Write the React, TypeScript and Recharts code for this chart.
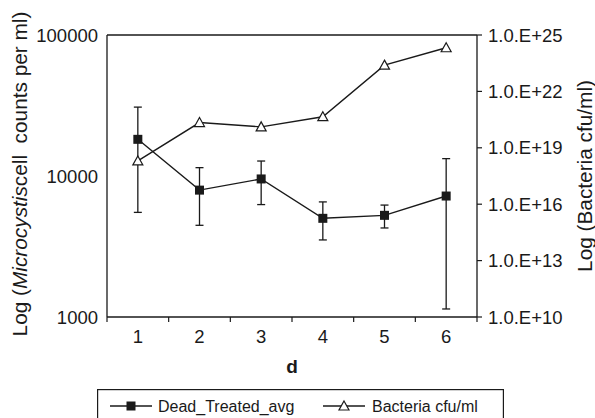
// Microcystis dead cells vs bacteria counts over days, dual log axes

import React from "react";
import {
  ComposedChart,
  Line,
  XAxis,
  YAxis,
  ErrorBar,
  Legend,
  ReferenceLine,
  Label,
} from "recharts";

// values
const days = [1, 2, 3, 4, 5, 6];
const deadAvg = [18200, 7940, 9530, 5010, 5260, 7210];
const deadUpper = [30800, 11460, 12770, 6550, 6220, 13280];
const deadLower = [5520, 4470, 6270, 3520, 4280, 1140];
const bacteria = [2e18, 2.2e20, 1.3e20, 4.5e20, 2.5e23, 2.1e24];

const xTicks = [0.5, 1, 1.5, 2, 2.5, 3, 3.5, 4, 4.5, 5, 5.5, 6, 6.5];
const leftTicks = [1000, 10000, 100000];
const rightTicks = [1e10, 1e13, 1e16, 1e19, 1e22, 1e25];
const seriesNames = ["Dead_Treated_avg", "Bacteria cfu/ml"];

const data = days.map((d, i) => ({
  d,
  dead: deadAvg[i],
  deadErr: [deadAvg[i] - deadLower[i], deadUpper[i] - deadAvg[i]],
  bacteria: bacteria[i],
}));

const INK = "#1a1a1a";
const FONT = "'Liberation Sans', Arial, sans-serif";
const TICK_FS = 18.5;

// integer ticks get a label, half ticks get a tick mark (category boundaries)
const XTick = (props: any) => {
  const { x, y, payload } = props;
  const v = payload.value;
  if (Number.isInteger(v)) {
    return (
      <text x={x} y={y + 18} textAnchor="middle" fontSize={TICK_FS} fill={INK} fontFamily={FONT}>
        {v}
      </text>
    );
  }
  return <line x1={x} x2={x} y1={y - 8} y2={y - 3} stroke={INK} strokeWidth={1.2} />;
};

const Square = (p: any) => (
  <rect key={`sq-${p.index}`} x={p.cx - 4.5} y={p.cy - 4.5} width={9} height={9} fill={INK} />
);

const Triangle = (p: any) => (
  <path
    key={`tr-${p.index}`}
    d={`M${p.cx},${p.cy - 5} L${p.cx + 5},${p.cy + 4} L${p.cx - 5},${p.cy + 4} Z`}
    fill="#fff"
    stroke={INK}
    strokeWidth={1.2}
  />
);

const LegendBox = () => (
  <svg width={407} height={34} style={{ display: "block" }}>
    <rect x={0.6} y={0.6} width={405.8} height={40} fill="#fff" stroke={INK} strokeWidth={1.2} />
    <line x1={13} x2={55} y1={17} y2={17} stroke={INK} strokeWidth={1.5} />
    <rect x={29.5} y={12.5} width={9} height={9} fill={INK} />
    <text x={61} y={23} fontSize={16} fill={INK} fontFamily={FONT}>
      {seriesNames[0]}
    </text>
    <line x1={226} x2={268} y1={17} y2={17} stroke={INK} strokeWidth={1.5} />
    <path d="M247,12 L252,21 L242,21 Z" fill="#fff" stroke={INK} strokeWidth={1.2} />
    <text x={275} y={23} fontSize={16} fill={INK} fontFamily={FONT}>
      {seriesNames[1]}
    </text>
  </svg>
);

const LeftTitle = (props: any) => {
  const { viewBox } = props;
  const cx = viewBox.x + 19;
  const cy = viewBox.y + viewBox.height / 2 - 2;
  return (
    <text
      x={cx}
      y={cy}
      transform={`rotate(-90 ${cx} ${cy})`}
      textAnchor="middle"
      dominantBaseline="central"
      fontSize={20.8}
      fill={INK}
      fontFamily={FONT}
      style={{ whiteSpace: "pre" }}
    >
      Log (<tspan fontStyle="italic">Microcystis</tspan>cell  counts per ml)
    </text>
  );
};

const RightTitle = (props: any) => {
  const { viewBox } = props;
  const cx = viewBox.x + 107;
  const cy = viewBox.y + viewBox.height / 2;
  return (
    <text
      x={cx}
      y={cy}
      transform={`rotate(-90 ${cx} ${cy})`}
      textAnchor="middle"
      dominantBaseline="central"
      fontSize={20.8}
      fill={INK}
      fontFamily={FONT}
    >
      Log (Bacteria cfu/ml)
    </text>
  );
};

export default function App() {
  return (
    <div style={{ position: "absolute", left: 0, top: 0, width: 595, height: 418, background: "#fff", overflow: "hidden" }}>
      <ComposedChart
        width={595}
        height={418}
        data={data}
        margin={{ top: 35, right: 0, bottom: 41, left: 0 }}
      >
        <XAxis
          dataKey="d"
          type="number"
          domain={[0.5, 6.5]}
          ticks={xTicks}
          interval={0}
          tickLine={false}
          tick={<XTick />}
          height={60}
          axisLine={{ stroke: INK, strokeWidth: 1.3 }}
        >
          <Label
            value="d"
            position="insideBottom"
            offset={4}
            fontSize={19}
            fontWeight="bold"
            fill={INK}
            fontFamily={FONT}
          />
        </XAxis>
        <YAxis
          yAxisId="left"
          scale="log"
          domain={[1000, 100000]}
          ticks={leftTicks}
          allowDataOverflow
          width={107}
          tickLine={false}
          tickMargin={3}
          tick={{ fontSize: TICK_FS, fill: INK, fontFamily: FONT }}
          axisLine={{ stroke: INK, strokeWidth: 1.3 }}
        >
          <Label content={<LeftTitle />} />
        </YAxis>
        <YAxis
          yAxisId="right"
          orientation="right"
          scale="log"
          domain={[1e10, 1e25]}
          ticks={rightTicks}
          allowDataOverflow
          width={118}
          tickSize={5}
          tickMargin={6}
          tickLine={{ stroke: INK, strokeWidth: 1.2 }}
          tickFormatter={(v: number) => `1.0.E+${Math.round(Math.log10(v))}`}
          tick={{ fontSize: TICK_FS, fill: INK, fontFamily: FONT }}
          axisLine={{ stroke: INK, strokeWidth: 1.3 }}
        >
          <Label content={<RightTitle />} />
        </YAxis>
        <ReferenceLine yAxisId="left" y={100000} stroke={INK} strokeWidth={1.3} />
        <Line
          yAxisId="left"
          dataKey="dead"
          name={seriesNames[0]}
          stroke={INK}
          strokeWidth={1.4}
          dot={Square}
          activeDot={false}
          isAnimationActive={false}
        >
          <ErrorBar dataKey="deadErr" direction="y" width={4} stroke={INK} strokeWidth={1.3} />
        </Line>
        <Line
          yAxisId="right"
          dataKey="bacteria"
          name={seriesNames[1]}
          stroke={INK}
          strokeWidth={1.4}
          dot={Triangle}
          activeDot={false}
          isAnimationActive={false}
        />
        <Legend
          layout="horizontal"
          verticalAlign="middle"
          align="center"
          width={407}
          height={34}
          wrapperStyle={{ left: 97, top: 389 }}
          content={<LegendBox />}
        />
      </ComposedChart>
    </div>
  );
}
